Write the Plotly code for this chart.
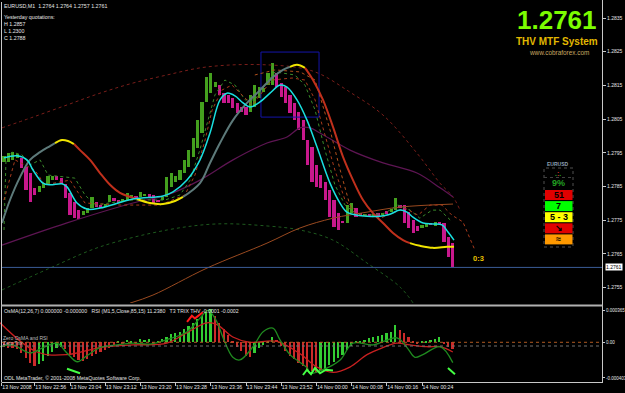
import plotly.graph_objects as go

W, H = 625, 393

# ---------------- data ----------------
header_text = "EURUSD,M1  1.2764 1.2764 1.2757 1.2761"
yesterday_lines = ["Yesterday quotations:", "H 1.2857", "L 1.2300", "C 1.2788"]
bid = 1.2761

time_labels = ["13 Nov 2008", "13 Nov 22:56", "13 Nov 23:04", "13 Nov 23:12", "13 Nov 23:20",
               "13 Nov 23:28", "13 Nov 23:36", "13 Nov 23:44", "13 Nov 23:52",
               "14 Nov 00:00", "14 Nov 00:08", "14 Nov 00:16", "14 Nov 00:24"]
time_pos = [-0.5, 7, 15, 23, 31, 39, 47, 55, 63, 71, 79, 87, 95]

price_ticks = [1.2755, 1.2765, 1.2775, 1.2785, 1.2795, 1.2805, 1.2815, 1.2825, 1.2835]

bar_open = [1.27923, 1.27923, 1.27929, 1.27935, 1.27935, 1.27908, 1.27890, 1.27846, 1.27834, 1.27846,
            1.27855, 1.27869, 1.27881, 1.27875, 1.27858, 1.27831, 1.27804, 1.27780, 1.27765, 1.27771,
            1.27786, 1.27804, 1.27795, 1.27789, 1.27804, 1.27816, 1.27810, 1.27804, 1.27810, 1.27816,
            1.27822, 1.27819, 1.27822, 1.27828, 1.27825, 1.27810, 1.27810, 1.27819, 1.27849, 1.27863,
            1.27869, 1.27890, 1.27908, 1.27938, 1.27964, 1.28009, 1.28101, 1.28127, 1.28145, 1.28151,
            1.28127, 1.28122, 1.28113, 1.28098, 1.28086, 1.28086, 1.28071, 1.28086, 1.28113, 1.28130,
            1.28151, 1.28151, 1.28187, 1.28157, 1.28145, 1.28122, 1.28098, 1.28071, 1.28047, 1.27988,
            1.27967, 1.27914, 1.27884, 1.27863, 1.27840, 1.27810, 1.27771, 1.27748, 1.27742, 1.27771,
            1.27786, 1.27771, 1.27762, 1.27768, 1.27762, 1.27771, 1.27765, 1.27777, 1.27774, 1.27780,
            1.27795, 1.27795, 1.27774, 1.27751, 1.27733, 1.27727, 1.27730, 1.27742, 1.27733, 1.27745,
            1.27742, 1.27701, 1.27682]
bar_close = [1.27941, 1.27949, 1.27952, 1.27947, 1.27905, 1.27840, 1.27804, 1.27825, 1.27852, 1.27860,
             1.27881, 1.27881, 1.27869, 1.27858, 1.27816, 1.27765, 1.27756, 1.27753, 1.27777, 1.27786,
             1.27819, 1.27789, 1.27786, 1.27798, 1.27825, 1.27807, 1.27801, 1.27813, 1.27831, 1.27825,
             1.27813, 1.27834, 1.27828, 1.27816, 1.27801, 1.27804, 1.27819, 1.27878, 1.27890, 1.27881,
             1.27899, 1.27929, 1.27958, 1.27994, 1.28047, 1.28101, 1.28175, 1.28187, 1.28160, 1.28122,
             1.28098, 1.28098, 1.28083, 1.28068, 1.28071, 1.28062, 1.28122, 1.28151, 1.28145, 1.28142,
             1.28187, 1.28217, 1.28145, 1.28116, 1.28098, 1.28068, 1.28047, 1.28018, 1.27988, 1.27914,
             1.27863, 1.27849, 1.27846, 1.27810, 1.27759, 1.27730, 1.27721, 1.27742, 1.27795, 1.27801,
             1.27759, 1.27762, 1.27768, 1.27762, 1.27768, 1.27762, 1.27771, 1.27768, 1.27783, 1.27816,
             1.27786, 1.27742, 1.27727, 1.27712, 1.27718, 1.27736, 1.27742, 1.27736, 1.27745, 1.27739,
             1.27685, 1.27641, 1.27611]

# fast MA (cyan)
fast_x = [0, 2.95, 5.23, 6.59, 8.86, 10.45, 13.18, 14.32, 16.59, 18.86, 21.82, 29.32, 36.14, 38.41,
          41.59, 44.55, 46.82, 49.09, 50.68, 52.5, 54.32, 55.91, 58.18, 60.45, 62.73, 64.32, 66.59,
          68.86, 71.14, 74.09, 76.36, 77.95, 80.23, 82.5, 85.45, 87.73, 90, 91.59, 92.95, 95.23,
          97.5, 99.55, 100.91, 102.27]
fast_y = [1.27935, 1.27941, 1.27929, 1.27899, 1.27860, 1.27855, 1.27858, 1.27849, 1.27801, 1.27783,
          1.27786, 1.27813, 1.27822, 1.27834, 1.27869, 1.27929, 1.28009, 1.28107, 1.28127, 1.28119,
          1.28098, 1.28086, 1.28101, 1.28127, 1.28151, 1.28145, 1.28107, 1.28047, 1.27967, 1.27860,
          1.27801, 1.27774, 1.27765, 1.27762, 1.27762, 1.27768, 1.27780, 1.27774, 1.27759, 1.27742,
          1.27739, 1.27736, 1.27715, 1.27691]

# slow MA with trend states (g = up, y = turning, r = down)
slow_x = [-0.45, 1.36, 3.64, 5.91, 8.18, 10.45, 11.59, 13.18, 14.55, 15.91, 17.27, 19.55, 21.82,
          24.09, 26.36, 30.23, 33.18, 36.14, 38.86, 40.68, 44.55, 46.82, 49.09, 52.05, 55.23, 58.18,
          61.14, 63.41, 65.0, 66.59, 68.41, 70.23, 72.5, 74.77, 77.05, 79.32, 81.59, 83.86, 86.14,
          88.41, 90.68, 92.27, 94.55, 97.5, 100.68, 102.27]
slow_y = [1.27742, 1.27810, 1.27878, 1.27929, 1.27952, 1.27970, 1.27979, 1.27988, 1.27985, 1.27976,
          1.27958, 1.27929, 1.27890, 1.27855, 1.27831, 1.27813, 1.27801, 1.27798, 1.27807, 1.27819,
          1.27860, 1.27920, 1.27979, 1.28047, 1.28098, 1.28136, 1.28175, 1.28196, 1.28205, 1.28211,
          1.28202, 1.28166, 1.28107, 1.28027, 1.27938, 1.27869, 1.27810, 1.27771, 1.27742, 1.27712,
          1.27691, 1.27682, 1.27674, 1.27668, 1.27671, 1.27671]
slow_segments = [(0, 6, "g"), (6, 9, "y"), (9, 15, "r"), (15, 19, "y"), (19, 28, "g"),
                 (28, 30, "y"), (30, 41, "r"), (41, 45, "y")]

# long MA (purple)
long_x = [-0.45, 14.32, 29.32, 37.05, 44.55, 52.05, 59.77, 64.32, 67.27, 69.55, 71.82, 78.64,
          86.14, 93.86, 99.09, 102.05]
long_y = [1.27676, 1.27742, 1.27801, 1.27825, 1.27869, 1.27929, 1.27979, 1.27997, 1.28024, 1.28024,
          1.28009, 1.27958, 1.27920, 1.27890, 1.27846, 1.27819]

# upper dotted arc
arc_hi_x = [-0.45, 6.59, 14.32, 21.82, 29.32, 37.05, 44.55, 52.05, 59.77, 67.27, 71.82, 78.64,
            86.14, 93.86, 99.09, 102.05, 103.64]
arc_hi_y = [1.28024, 1.28056, 1.28092, 1.28127, 1.28157, 1.28181, 1.28202, 1.28211, 1.28211,
            1.28202, 1.28184, 1.28130, 1.28062, 1.27949, 1.27860, 1.27819, 1.27780]

# lower dotted arc
arc_lo_x = [-0.45, 10.45, 21.82, 37.05, 48.41, 59.77, 67.27, 74.77, 82.5, 90.0, 92.95]
arc_lo_y = [1.27543, 1.27608, 1.27671, 1.27721, 1.27739, 1.27733, 1.27721, 1.27691, 1.27623,
            1.27552, 1.27505]

# brown trend line
brown_x = [28.64, 33.86, 46.14, 59.77, 67.27, 74.77, 82.5, 90.0, 102.05]
brown_y = [1.27504, 1.27528, 1.27608, 1.27682, 1.27727, 1.27756, 1.27774, 1.27789, 1.27798]

# dotted MTF lines
dot_red_x = [0.0, 2.5, 7.0, 9.3, 15.0, 18.4, 26.4, 35.5, 41.1, 43.4, 45.7, 47.3, 49.5, 51.8, 56.4,
             60.9, 65.5, 68.4, 70.7, 72.95, 75.2, 77.5, 79.8, 85.5, 88.9, 91.1, 94.1, 96.8, 99.5,
             101.8, 104.3, 107.0]
dot_red_y = [1.27810, 1.27929, 1.27899, 1.27855, 1.27869, 1.27801, 1.27795, 1.27795, 1.27825,
             1.27884, 1.27988, 1.28077, 1.28136, 1.28151, 1.28092, 1.28166, 1.28172, 1.28166,
             1.28107, 1.28003, 1.27899, 1.27810, 1.27771, 1.27756, 1.27774, 1.27786, 1.27765,
             1.27795, 1.27795, 1.27765, 1.27745, 1.27662]
dot_green_x = [0, 0.45, 1.8, 4.1, 5.9, 8.2, 10.0, 16.1, 18.4, 20.7, 28.6, 36.6, 40.0, 42.3, 44.5,
               46.4, 47.95, 50.2, 52.5, 54.8, 57.0, 59.3, 61.6, 66.1, 68.4, 70.7, 72.95, 75.2, 77.5,
               79.8, 83.2, 86.6, 89.5, 92.3, 94.5, 97.3, 99.1, 101.4]
dot_green_y = [1.27721, 1.27929, 1.27952, 1.27944, 1.27914, 1.27929, 1.27884, 1.27875, 1.27825,
               1.27795, 1.27810, 1.27810, 1.27825, 1.27869, 1.27958, 1.28047, 1.28122, 1.28166,
               1.28151, 1.28107, 1.28107, 1.28151, 1.28190, 1.28181, 1.28151, 1.28077, 1.27958,
               1.27855, 1.27795, 1.27771, 1.27765, 1.27771, 1.27795, 1.27780, 1.27756, 1.27780,
               1.27780, 1.27751]
dot_orange_x = [57.0, 61.6, 67.3, 70.7, 74.1, 76.4, 78.6, 81.4]
dot_orange_y = [1.28181, 1.28196, 1.28190, 1.28166, 1.28018, 1.27899, 1.27795, 1.27759]

# highlight rectangle (bar index range, price range)
box_x = [58.4, 71.6]
box_y = [1.28056, 1.28249]

# projection label
proj_label = "0:3"
proj_x, proj_y = 107.95, 1.27637

# ---- sub window: OsMA histogram + lines ----
osma = [-0.00005, -0.00006, -0.00007, -0.00008, -0.00012, -0.00018, -0.00023, -0.00027,
        -0.00025, -0.00021, -0.00016, -0.00011, -0.00007, -0.00005,
        -0.00008, -0.00013, -0.00017, -0.00020, -0.00021, -0.00019, -0.00016, -0.00013, -0.00011,
        -0.00009, -0.00006, -0.00003,
        0.00002, -0.00001, 0.00003, 0.00002, -0.00001, 0.00004, 0.00003, 0.00004, -0.00001, 0.00002,
        0.00004, 0.00006, 0.00009, 0.00010, 0.00012, 0.00015, 0.00018, 0.00022, 0.00026, 0.00030,
        0.00034, 0.00038, 0.00030, 0.00022, 0.00015, 0.00008, 0.00002, -0.00005, -0.00010, -0.00015,
        -0.00017, -0.00012, -0.00007, -0.00003, 0.00002, 0.00006, 0.00003, -0.00004, -0.00010,
        -0.00015, -0.00019, -0.00023, -0.00027, -0.00030, -0.00033, -0.00035, -0.00033, -0.00030,
        -0.00026, -0.00022, -0.00018, -0.00014, -0.00009, -0.00004, 0.00001, 0.00002, 0.00003,
        0.00005, 0.00006, 0.00007, 0.00008, 0.00010, 0.00012, 0.00020, 0.00014, 0.00010, 0.00006,
        0.00002, -0.00001, 0.00001, 0.00002, 0.00003, 0.00004, 0.00006, -0.00002, -0.00005, -0.00008]
osma_dir = ("dddddddd" "uuuuuu" "ddddddddd" "ddd" "udu" "uduuud" "uu" "uuuuuuuuuuu"
            "ddddddddd" "uuuuu" "dddddddddd" "uuuuuuuuuuuuuuuuuu" "ddddd" "uuuuu" "ddd")

signal_x = [-0.9, 7.5, 14.3, 21.8, 29.3, 37.0, 41.6, 46.1, 48.4, 52.0, 55.9, 62.0, 67.3, 71.1,
            74.8, 78.6, 82.5, 86.1, 89.3, 92.3, 96.1, 99.1, 102.0]
signal_y = [0.00022, -0.00011, -0.00014, -0.00006, -0.00003, -0.00001, 0.00011, 0.00022, 0.00020,
            0.00006, 0.00000, 0.00001, -0.00013, -0.00028, -0.00034, -0.00028, -0.00014, -0.00006,
            -0.00001, -0.00003, -0.00005, -0.00005, -0.00011]
rsi_x = [-0.9, 2.0, 5.9, 8.9, 12.0, 14.3, 16.6, 18.9, 21.8, 25.7, 29.3, 33.2, 37.0, 41.6, 44.5,
         46.4, 48.4, 49.8, 52.0, 53.6, 56.6, 58.9, 61.1, 62.7, 65.0, 68.9, 69.5, 72.5, 76.4, 79.3,
         83.9, 89.3, 91.6, 93.4, 95.2, 99.1, 102.0]
rsi_y = [-0.00005, -0.00003, -0.00012, -0.00006, -0.00001, -0.00012, -0.00022, -0.00015, -0.00006,
         -0.00003, -0.00001, -0.00002, 0.00003, 0.00012, 0.00027, 0.00036, 0.00023, 0.00005,
         -0.00017, -0.00020, -0.00005, 0.00012, 0.00016, 0.00003, -0.00014, -0.00029, -0.00035,
         -0.00031, -0.00020, -0.00001, -0.00003, 0.00005, -0.00006, -0.00017, -0.00014, -0.00005,
         -0.00023]
trix_marks = [
    ([14.32, 17.27], [-0.00030, -0.00035]),
    ([67.95, 68.86, 69.77, 70.68, 71.82, 73.18, 74.77],
     [-0.00037, -0.00031, -0.00036, -0.00029, -0.00035, -0.00031, -0.00032]),
    ([100.9, 102.5], [-0.00029, -0.00036]),
]
trix_spike_x = [41.6, 42.7, 43.4, 45.2]
trix_spike_y = [0.00023, 0.00030, 0.00027, 0.00034]

sub_ticks = [0.000365, 0.0, -0.000403]
sub_tick_text = ["0.000365", "0.00", "-0.000403"]

sub_title = ("OsMA(12,26,7) 0.000000 -0.000000   RSI (M1,5,Close,85,15) 11.2380   "
             "T3 TRIX THV -0.0001 -0.0002")

# dashboard
big_price = "1.2761"
system_name = "THV MTF System"
site = "www.cobraforex.com"
dash_rows = [("51", "#e00000"), ("7", "#00ff00"), ("5 - 3", "#ffff00"), ("↘", "#e00000"), ("≈", "#ff9900")]

# ---------------- figure ----------------
FONT = "Liberation Sans, Arial, sans-serif"
x_dom = [0, 602 / W]
x_rng = [-4 / 4.4, (602 - 4) / 4.4]
y_dom = [1 - 303 / H, 1 - 2 / H]
y_rng = [1.275044, 1.283975]
y2_dom = [1 - 382 / H, 1 - 307 / H]
y2_rng = [-0.000449, 0.000399]

def px(x):
    return x / W

def py(y):
    return 1 - y / H

fig = go.Figure()

# decorations behind
fig.add_trace(go.Scatter(x=arc_hi_x, y=arc_hi_y, mode="lines", line=dict(color="#7a1e1a", width=1, dash="dot", shape="spline")))
fig.add_trace(go.Scatter(x=arc_lo_x, y=arc_lo_y, mode="lines", line=dict(color="#1e5a1e", width=1, dash="dot", shape="spline")))
fig.add_trace(go.Scatter(x=brown_x, y=brown_y, mode="lines", line=dict(color="#9a4a20", width=1, shape="spline")))
fig.add_trace(go.Scatter(x=long_x, y=long_y, mode="lines", line=dict(color="#5e1553", width=1.2, shape="spline")))

fig.add_trace(go.Scatter(x=[box_x[0], box_x[1], box_x[1], box_x[0], box_x[0]],
                         y=[box_y[0], box_y[0], box_y[1], box_y[1], box_y[0]],
                         mode="lines", line=dict(color="#1414a8", width=1)))

fig.add_trace(go.Scatter(x=dot_green_x, y=dot_green_y, mode="lines", line=dict(color="#3a8a2a", width=1, dash="dot")))
fig.add_trace(go.Scatter(x=dot_red_x, y=dot_red_y, mode="lines", line=dict(color="#a83a1c", width=1, dash="dot")))
fig.add_trace(go.Scatter(x=dot_orange_x, y=dot_orange_y, mode="lines", line=dict(color="#b0501c", width=1, dash="dot")))

# candles (bodies)
idx = list(range(len(bar_open)))
body_col = ["#44a01e" if c >= o else "#c8188c" for o, c in zip(bar_open, bar_close)]
fig.add_trace(go.Bar(x=idx, y=[c - o for o, c in zip(bar_open, bar_close)], base=bar_open,
                     width=0.72, marker=dict(color=body_col, line=dict(width=0))))

# slow MA colored segments
seg_col = {"g": "#5d7a7a", "y": "#f0e400", "r": "#c0301c"}
for a, b, s in slow_segments:
    fig.add_trace(go.Scatter(x=slow_x[a:b + 1], y=slow_y[a:b + 1], mode="lines",
                             line=dict(color=seg_col[s], width=2, shape="spline")))

# fast MA
fig.add_trace(go.Scatter(x=fast_x, y=fast_y, mode="lines", line=dict(color="#19e0e0", width=1.5, shape="spline")))

# ---- sub window ----
h_col = ["#33cc33" if d == "u" else "#cc2a2a" for d in osma_dir]
fig.add_trace(go.Bar(x=idx, y=osma, width=0.4, marker=dict(color=h_col, line=dict(width=0)), yaxis="y2"))
fig.add_trace(go.Scatter(x=signal_x, y=signal_y, mode="lines", line=dict(color="#c82020", width=1.3, shape="spline"), yaxis="y2"))
fig.add_trace(go.Scatter(x=rsi_x, y=rsi_y, mode="lines", line=dict(color="#1f8a1f", width=1.3, shape="spline"), yaxis="y2"))
for mx, my in trix_marks:
    fig.add_trace(go.Scatter(x=mx, y=my, mode="lines", line=dict(color="#44ff44", width=2), yaxis="y2"))
fig.add_trace(go.Scatter(x=trix_spike_x, y=trix_spike_y, mode="lines", line=dict(color="#ff1a1a", width=2), yaxis="y2"))

shapes = []
# bid line
shapes.append(dict(type="line", xref="paper", x0=px(2), x1=px(602), yref="y", y0=bid, y1=bid,
                   line=dict(color="#3a5c96", width=1)))
# sub zero lines
shapes.append(dict(type="line", xref="paper", x0=px(2), x1=px(602), yref="y2", y0=0, y1=0,
                   line=dict(color="#b05a20", width=1, dash="dot")))
shapes.append(dict(type="line", xref="paper", x0=px(2), x1=px(602), yref="paper", y0=py(346), y1=py(346),
                   line=dict(color="#707070", width=1, dash="dot")))
# frame lines
shapes.append(dict(type="line", xref="paper", yref="paper", x0=px(1.5), x1=px(1.5), y0=py(2), y1=py(382),
                   line=dict(color="#c8c8c8", width=1)))
shapes.append(dict(type="line", xref="paper", yref="paper", x0=px(602.5), x1=px(602.5), y0=py(0), y1=py(383),
                   line=dict(color="#c8c8c8", width=1)))
shapes.append(dict(type="line", xref="paper", yref="paper", x0=px(1.5), x1=px(602.5), y0=py(305.5), y1=py(305.5),
                   line=dict(color="#b0b0b0", width=2)))
shapes.append(dict(type="line", xref="paper", yref="paper", x0=px(1.5), x1=px(602.5), y0=py(382.5), y1=py(382.5),
                   line=dict(color="#c8c8c8", width=1)))
# dashboard frame
shapes.append(dict(type="rect", xref="paper", yref="paper", x0=px(544), x1=px(573), y0=py(247), y1=py(168),
                   line=dict(color="#505050", width=1, dash="dot")))
shapes.append(dict(type="line", xref="paper", yref="paper", x0=px(544), x1=px(573), y0=py(177.5), y1=py(177.5),
                   line=dict(color="#404040", width=1, dash="dot")))
row_top = 190
for k, (txt, col) in enumerate(dash_rows):
    y0 = row_top + k * 11.1
    shapes.append(dict(type="rect", xref="paper", yref="paper", x0=px(545), x1=px(572.5),
                       y0=py(y0 + 10), y1=py(y0), fillcolor=col, line=dict(width=0)))

annotations = []

def ann(x, y, text, size, color, xanchor="left", bold=False, bg=None, family=FONT, border=None):
    t = "<b>" + text + "</b>" if bold else text
    d = dict(x=px(x), y=py(y), xref="paper", yref="paper", text=t, showarrow=False,
             xanchor=xanchor, yanchor="middle", font=dict(size=size, color=color, family=family),
             borderpad=0)
    if bg:
        d["bgcolor"] = bg
    if border:
        d["bordercolor"] = border
        d["borderwidth"] = 1
    annotations.append(d)

ann(3, 6, header_text, 5.3, "#e6e6e6")
for k, line in enumerate(yesterday_lines):
    ann(3, [17, 24, 31, 38][k], line, 5.3, "#e6e6e6")

ann(557, 19.5, big_price, 26, "#7cfc00", xanchor="center", bold=True)
ann(557, 41.5, system_name, 10, "#e2b800", xanchor="center", bold=True)
ann(559, 52.5, site, 6.4, "#c8a860", xanchor="center")

ann(558, 164, "EURUSD", 5, "#8ea0b4", xanchor="center", bold=True)
ann(558, 173, "<span style='color:#20a020'>.</span><span style='color:#d03030'>:</span><span style='color:#20a020'>.</span>",
    7, "#d03030", xanchor="center", bold=True)
ann(558, 183, "9%", 9, "#22a022", xanchor="center", bold=True)
for k, (txt, col) in enumerate(dash_rows):
    ann(558.5, row_top + k * 11.1 + 5, txt, 9, "#000000", xanchor="center", bold=True)

ann(3, 311, sub_title, 5.2, "#e0e0e0")
ann(2, 337.5, "Zero OsMA and RSI", 5, "#bdbdbd")
ann(2, 342.5, "Zero Trix", 5, "#bdbdbd")
ann(3, 378, "ODL MetaTrader, © 2001-2008 MetaQuotes Software Corp.", 5.2, "#e0e0e0")

# current price tag on axis
ann(605, 267, "1.2761", 5, "#000000", bg="#ffffff")

annotations.append(dict(x=proj_x, y=proj_y, xref="x", yref="y", text="<b>" + proj_label + "</b>",
                        showarrow=False, font=dict(size=7.5, color="#e8c000", family=FONT)))

fig.update_layout(
    width=W, height=H, autosize=False,
    margin=dict(l=0, r=0, t=0, b=0, pad=0),
    paper_bgcolor="#000000", plot_bgcolor="#000000",
    showlegend=False, barmode="overlay", bargap=0,
    shapes=shapes, annotations=annotations,
    xaxis=dict(domain=x_dom, range=x_rng, anchor="y2", tickmode="array", tickvals=time_pos,
               ticktext=time_labels, ticks="outside", ticklen=3, tickcolor="#c8c8c8",
               ticklabelposition="outside right", tickangle=0,
               tickfont=dict(size=5.2, color="#e6e6e6", family=FONT),
               showgrid=False, zeroline=False, showline=False, automargin=False, fixedrange=True),
    yaxis=dict(domain=y_dom, range=y_rng, anchor="x", side="right", tickmode="array",
               tickvals=price_ticks, ticktext=["%.4f" % v for v in price_ticks],
               ticks="outside", ticklen=3, tickcolor="#c8c8c8",
               tickfont=dict(size=5, color="#e6e6e6", family=FONT),
               showgrid=False, zeroline=False, showline=False, automargin=False),
    yaxis2=dict(domain=y2_dom, range=y2_rng, anchor="x", side="right", tickmode="array",
                tickvals=sub_ticks, ticktext=sub_tick_text, ticks="outside", ticklen=2,
                tickcolor="#c8c8c8", tickfont=dict(size=4.5, color="#e6e6e6", family=FONT),
                showgrid=False, zeroline=False, showline=False, automargin=False),
)

fig.write_html("out.html")
